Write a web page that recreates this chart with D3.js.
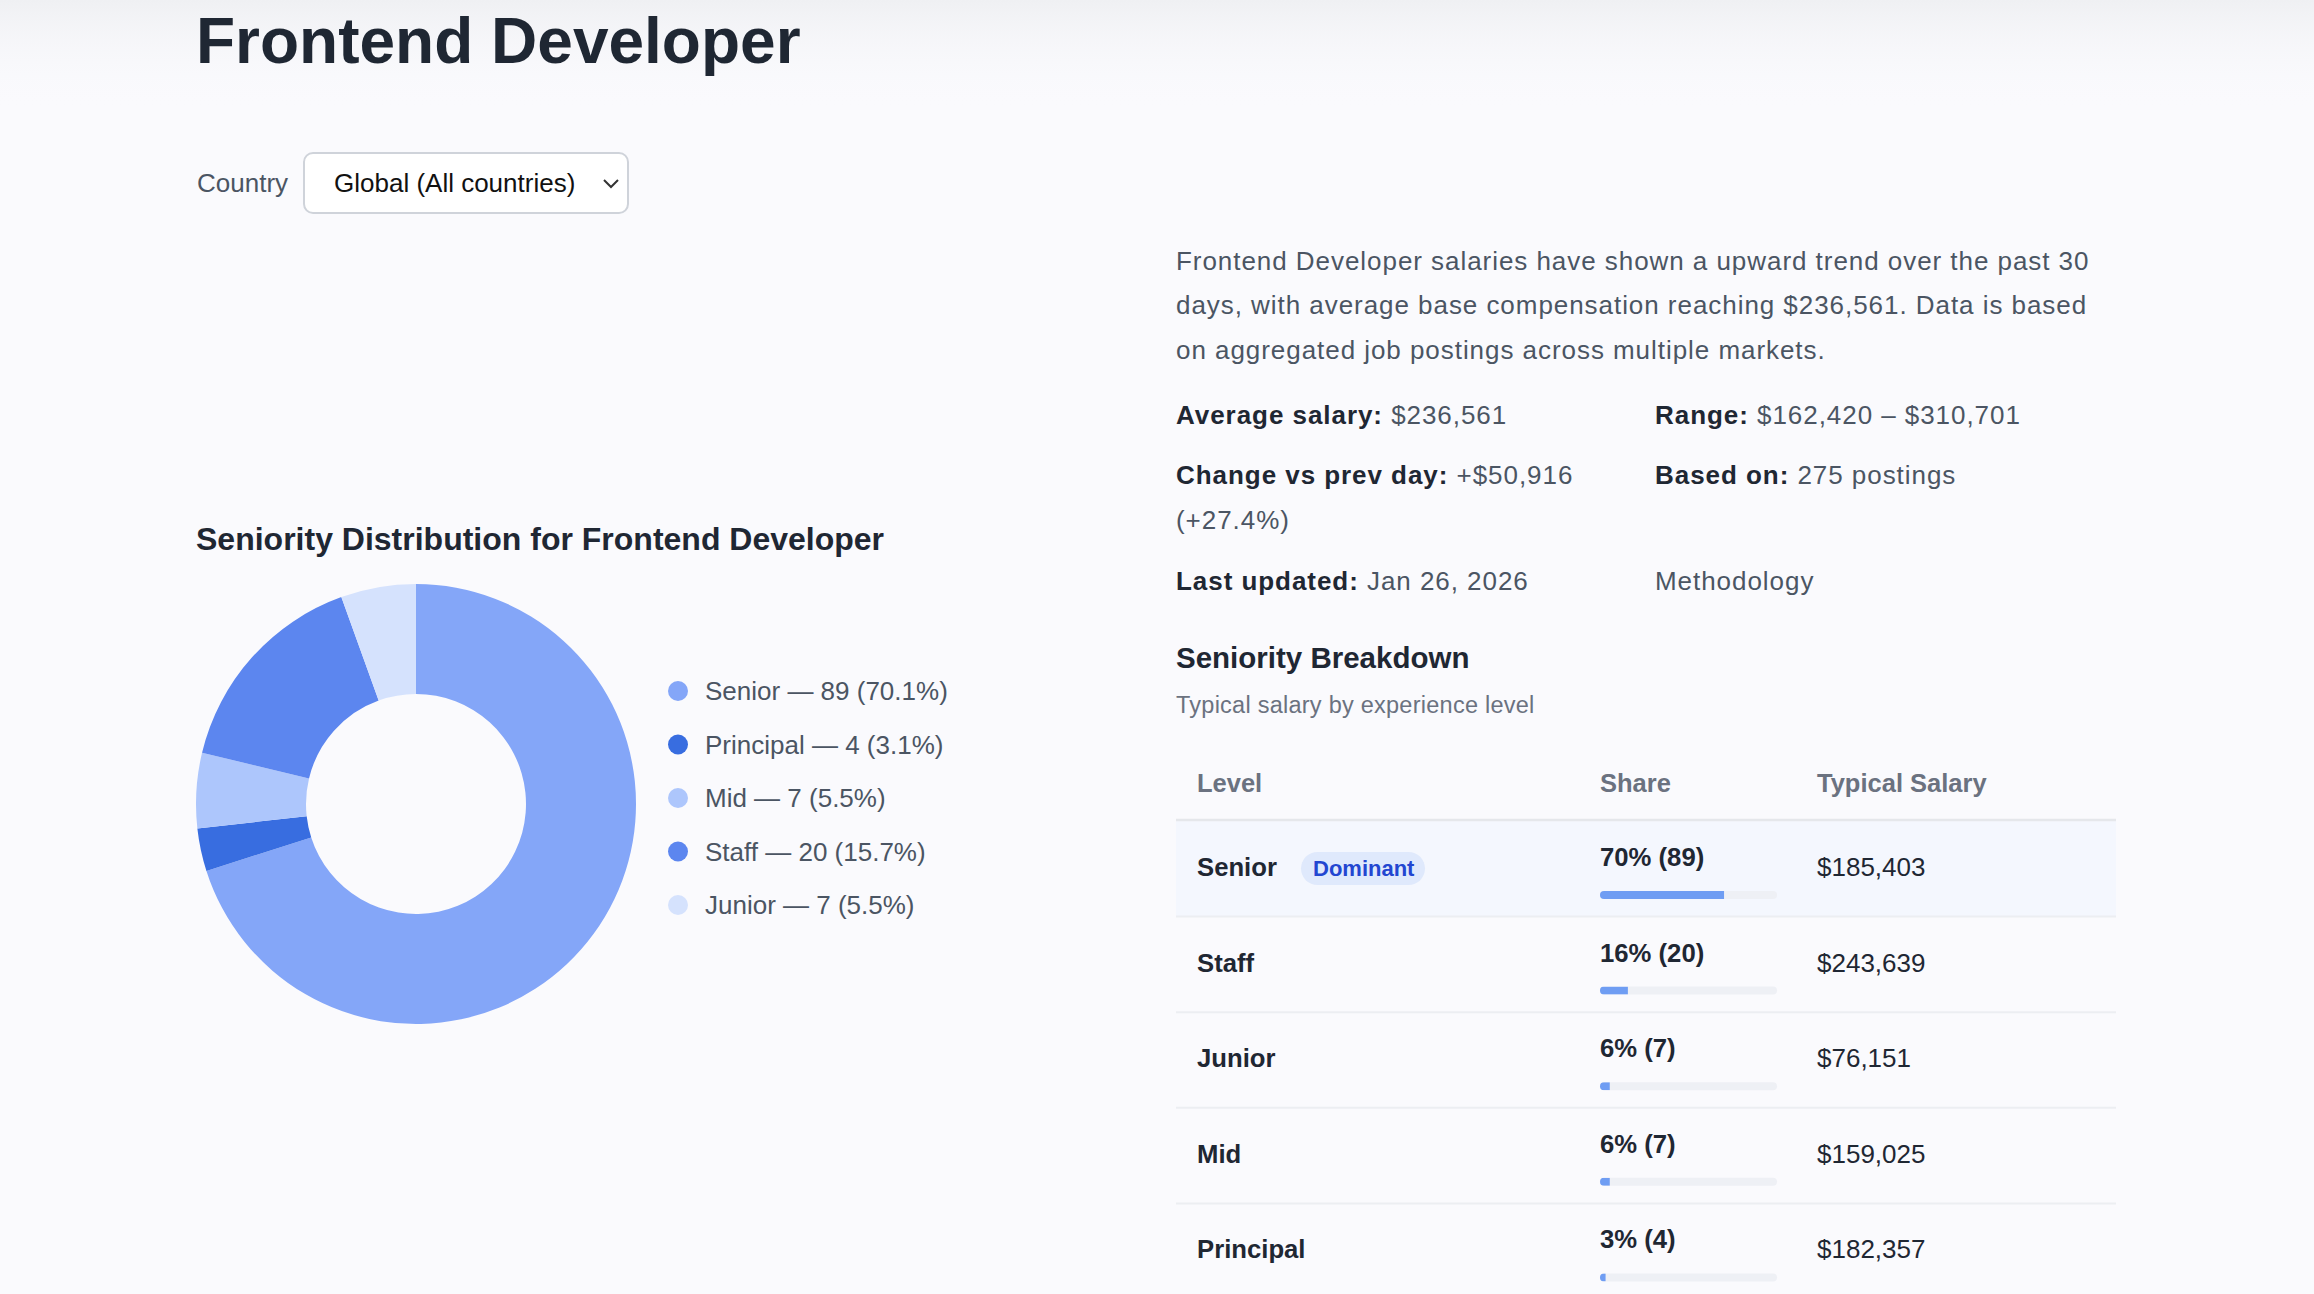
<!DOCTYPE html>
<html>
<head>
<meta charset="utf-8">
<title>Frontend Developer</title>
<script src="https://cdn.jsdelivr.net/npm/d3@7"></script>
<style>
  html, body { margin: 0; padding: 0; background: #fafafd; overflow: hidden; }
  svg { display: block; font-family: "Liberation Sans", Arial, Helvetica, sans-serif; }
</style>
</head>
<body>
<div id="page"></div>
<script>
  // donut data, in the order the slices are drawn
  const levels = ["Senior", "Principal", "Mid", "Staff", "Junior"];
  const counts = [89, 4, 7, 20, 7];
  const colors = ["#84a6f8", "#386de0", "#adc6fc", "#5c86ef", "#d5e2fd"];

  // breakdown table
  const tableLevels = ["Senior", "Staff", "Junior", "Mid", "Principal"];
  const tableSalaries = [185403, 243639, 76151, 159025, 182357];

  const paragraph = [
    "Frontend Developer salaries have shown a upward trend over the past 30",
    "days, with average base compensation reaching $236,561. Data is based",
    "on aggregated job postings across multiple markets."
  ];
  const statLabels = ["Average salary:", "Range:", "Change vs prev day:", "Based on:", "Last updated:", ""];
  const statValues = ["$236,561", "$162,420 \u2013 $310,701", "+$50,916", "275 postings", "Jan 26, 2026", "Methodology"];

  const W = 2314, H = 1294;
  const total = d3.sum(counts);
  const pct = c => c / total * 100;
  const countOf = name => counts[levels.indexOf(name)];
  const fmtMoney = d3.format("$,");

  const svg = d3.select("#page").append("svg")
    .attr("width", W).attr("height", H);

  const defs = svg.append("defs");
  const topGrad = defs.append("linearGradient").attr("id", "topGrad")
    .attr("x1", 0).attr("y1", 0).attr("x2", 0).attr("y2", 1);
  topGrad.append("stop").attr("offset", "0%").attr("stop-color", "#eff0f3");
  topGrad.append("stop").attr("offset", "100%").attr("stop-color", "#fafafd").attr("stop-opacity", 0);

  svg.append("rect").attr("width", W).attr("height", H).attr("fill", "#fafafd");
  svg.append("rect").attr("width", W).attr("height", 110).attr("fill", "url(#topGrad)");

  // header
  svg.append("text").attr("x", 196).attr("y", 63)
    .attr("font-size", 64).attr("font-weight", 700).attr("fill", "#1f2733")
    .text("Frontend Developer");

  svg.append("text").attr("x", 197).attr("y", 192)
    .attr("font-size", 26).attr("fill", "#4b5563").text("Country");

  svg.append("rect").attr("x", 304).attr("y", 153).attr("width", 324).attr("height", 60)
    .attr("rx", 9).attr("fill", "#ffffff").attr("stroke", "#cfd3da").attr("stroke-width", 2);
  svg.append("text").attr("x", 334).attr("y", 192)
    .attr("font-size", 26).attr("fill", "#111111").text("Global (All countries)");
  svg.append("path").attr("d", "M604,180 L611,187 L618,180")
    .attr("fill", "none").attr("stroke", "#333").attr("stroke-width", 2);

  // donut chart
  svg.append("text").attr("x", 196).attr("y", 550)
    .attr("font-size", 32).attr("font-weight", 700).attr("fill", "#1f2733")
    .text("Seniority Distribution for Frontend Developer");

  const pie = d3.pie().sort(null).value(d => d.count);
  const arc = d3.arc().innerRadius(110).outerRadius(220);
  const slices = levels.map((name, i) => ({ name: name, count: counts[i], color: colors[i] }));

  svg.append("g").attr("transform", "translate(416,804)")
    .selectAll("path").data(pie(slices)).enter().append("path")
    .attr("d", arc)
    .attr("fill", d => d.data.color);

  const legendY = d3.scalePoint().domain(levels).range([691, 905]);
  const legend = svg.append("g").selectAll("g").data(slices).enter().append("g")
    .attr("transform", d => "translate(678," + legendY(d.name) + ")");
  legend.append("circle").attr("r", 10).attr("fill", d => d.color);
  legend.append("text").attr("x", 27).attr("y", 9)
    .attr("font-size", 26).attr("fill", "#4b5563")
    .text(d => d.name + " \u2014 " + d.count + " (" + pct(d.count).toFixed(1) + "%)");

  // summary text
  const side = svg.append("g").attr("font-size", 26).attr("letter-spacing", 0.95);
  side.selectAll("text.para").data(paragraph).enter().append("text")
    .attr("class", "para")
    .attr("x", 1176).attr("y", (d, i) => 270 + i * 44.3)
    .attr("fill", "#4b5563")
    .text(d => d);

  const statX = [1176, 1655];
  const statY = [424, 484, 590];
  statLabels.forEach((label, i) => {
    const t = side.append("text")
      .attr("x", statX[i % 2]).attr("y", statY[Math.floor(i / 2)]);
    if (label) t.append("tspan").attr("font-weight", 700).attr("fill", "#1f2733").text(label + " ");
    t.append("tspan").attr("fill", "#4b5563").text(statValues[i]);
  });
  side.append("text").attr("x", 1176).attr("y", 529)
    .attr("fill", "#4b5563").text("(+27.4%)");

  svg.append("text").attr("x", 1176).attr("y", 668)
    .attr("font-size", 29.5).attr("font-weight", 700).attr("fill", "#1f2733")
    .text("Seniority Breakdown");
  svg.append("text").attr("x", 1176).attr("y", 713)
    .attr("font-size", 23.5).attr("letter-spacing", 0.25).attr("fill", "#6b7280")
    .text("Typical salary by experience level");

  // table
  const tLeft = 1176, tRight = 2116;
  const colLevel = 1197, colShare = 1600, colSalary = 1817;
  const rowY = d3.scaleBand().domain(tableLevels).range([821, 821 + 5 * 95.6]);
  const barW = d3.scaleLinear().domain([0, 100]).range([0, 177]);

  const head = svg.append("g").attr("font-size", 25.5).attr("font-weight", 700).attr("fill", "#6b7280");
  head.append("text").attr("x", colLevel).attr("y", 792).text("Level");
  head.append("text").attr("x", colShare).attr("y", 792).text("Share");
  head.append("text").attr("x", colSalary).attr("y", 792).text("Typical Salary");

  const rows = svg.append("g").selectAll("g").data(tableLevels).enter().append("g")
    .attr("transform", d => "translate(0," + rowY(d) + ")");

  rows.filter((d, i) => i === 0).append("rect")
    .attr("x", tLeft).attr("width", tRight - tLeft).attr("height", rowY.bandwidth())
    .attr("fill", "#f4f7fe");
  rows.append("line")
    .attr("x1", tLeft).attr("x2", tRight)
    .attr("y1", rowY.bandwidth()).attr("y2", rowY.bandwidth())
    .attr("stroke", "#eceef2").attr("stroke-width", 2);

  rows.append("text").attr("x", colLevel).attr("y", 55)
    .attr("font-size", 25.7).attr("font-weight", 700).attr("fill", "#1f2733")
    .text(d => d);

  const badge = rows.filter((d, i) => i === 0).append("g");
  badge.append("rect").attr("x", 1301).attr("y", 31).attr("width", 124).attr("height", 33)
    .attr("rx", 16.5).attr("fill", "#dfe9fc");
  badge.append("text").attr("x", 1313).attr("y", 55)
    .attr("font-size", 22).attr("font-weight", 700).attr("fill", "#2246d1")
    .text("Dominant");

  rows.append("text").attr("x", colShare).attr("y", 45)
    .attr("font-size", 25.7).attr("font-weight", 700).attr("fill", "#1f2733")
    .text(d => Math.round(pct(countOf(d))) + "% (" + countOf(d) + ")");

  rows.each(function (d, i) {
    const g = d3.select(this);
    const id = "bar" + i;
    g.append("clipPath").attr("id", id).append("rect")
      .attr("x", colShare).attr("y", 70).attr("width", barW(100)).attr("height", 8).attr("rx", 4);
    g.append("rect").attr("x", colShare).attr("y", 70).attr("width", barW(100)).attr("height", 8)
      .attr("rx", 4).attr("fill", "#eef0f5");
    g.append("rect").attr("x", colShare).attr("y", 70).attr("width", barW(pct(countOf(d)))).attr("height", 8)
      .attr("fill", "#6f9df3").attr("clip-path", "url(#" + id + ")");
  });

  rows.append("text").attr("x", colSalary).attr("y", 55)
    .attr("font-size", 26).attr("fill", "#1f2733")
    .text((d, i) => fmtMoney(tableSalaries[i]));

  svg.append("line").attr("x1", tLeft).attr("x2", tRight).attr("y1", 820).attr("y2", 820)
    .attr("stroke", "#e5e7eb").attr("stroke-width", 2.5);
</script>
</body>
</html>
